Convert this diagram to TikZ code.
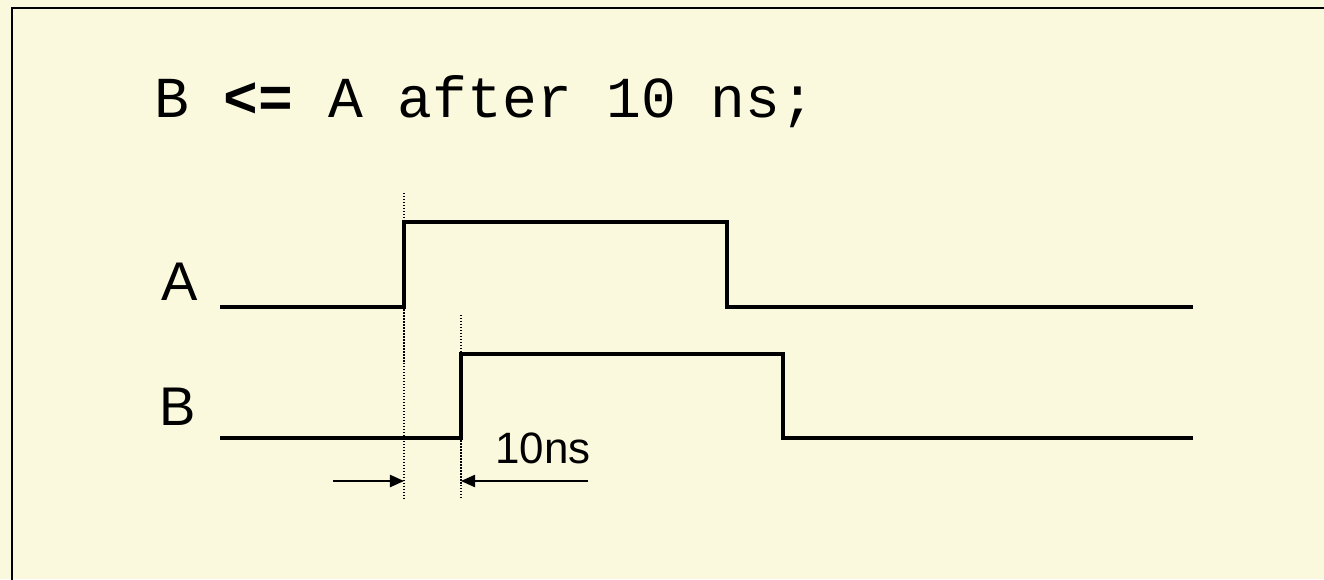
\documentclass[tikz,border=0pt]{standalone}
\usepackage{fontspec}
\setmainfont{Liberation Sans}
\newfontfamily\codefont{Liberation Mono}
\usetikzlibrary{arrows.meta}
\definecolor{bg}{HTML}{FBF9DD}
\definecolor{ink}{HTML}{000000}
\tikzset{
  frame/.style={draw=ink, line width=1.2pt},
  wave/.style={draw=ink, line width=2.6pt, line cap=butt, line join=miter},
  guide/.style={draw=ink, line width=0.7pt, densely dotted},
  delay/.style={draw=ink, line width=0.85pt, -{Triangle[length=8pt,width=7pt]}},
  code/.style={font=\codefont\fontsize{33}{40}\selectfont, inner sep=0pt, anchor=base west},
  sig/.style={font=\fontsize{31}{36}\selectfont, inner sep=0pt, anchor=base west},
  tag/.style={font=\fontsize{25}{30}\selectfont, inner sep=0pt, anchor=base west}
}

\begin{document}
\begin{tikzpicture}[x=0.02cm, y=-0.02cm]
  \fill[bg] (0,0) rectangle (1324,579);
  \useasboundingbox (0,0) rectangle (1324,579);
  \clip (0,0) rectangle (1324,579);
  % slide frame runs off at right and bottom
  \draw[frame] (12,8) rectangle (1360,620);

  \node[code] (stmt) at (154,117) {B {\bfseries<=} A after 10 ns;};

  \node[sig] (labA) at (161,300) {A};
  \node[sig] (labB) at (159,425) {B};

  % signal A
  \coordinate (a0) at (220,307);
  \coordinate (arise) at (404,307);
  \coordinate (afall) at (727,307);
  \coordinate (a1) at (1193,307);
  \draw[wave] (a0) -- (arise) -- ++(0,-85) -| (afall) -- (a1);

  % signal B
  \coordinate (b0) at (220,438);
  \coordinate (brise) at (461,438);
  \coordinate (bfall) at (783,438);
  \coordinate (b1) at (1193,438);
  \draw[wave] (b0) -- (brise) -- ++(0,-84) -| (bfall) -- (b1);

  % edge markers
  \coordinate (gA) at (404,193);
  \coordinate (gAend) at (404,498);
  \coordinate (gB) at (461,315);
  \coordinate (gBend) at (461,498);
  \draw[guide] (gA) -- (gAend);
  \draw[guide] (gB) -- (gBend);

  \coordinate (lA) at (333,481);
  \coordinate (tA) at (404,481);
  \coordinate (rB) at (588,481);
  \coordinate (tB) at (461,481);
  \draw[delay] (lA) -- (tA);
  \draw[delay] (rB) -- (tB);

  \node[tag] (dt) at (495,463) {10ns};
\end{tikzpicture}
\end{document}
